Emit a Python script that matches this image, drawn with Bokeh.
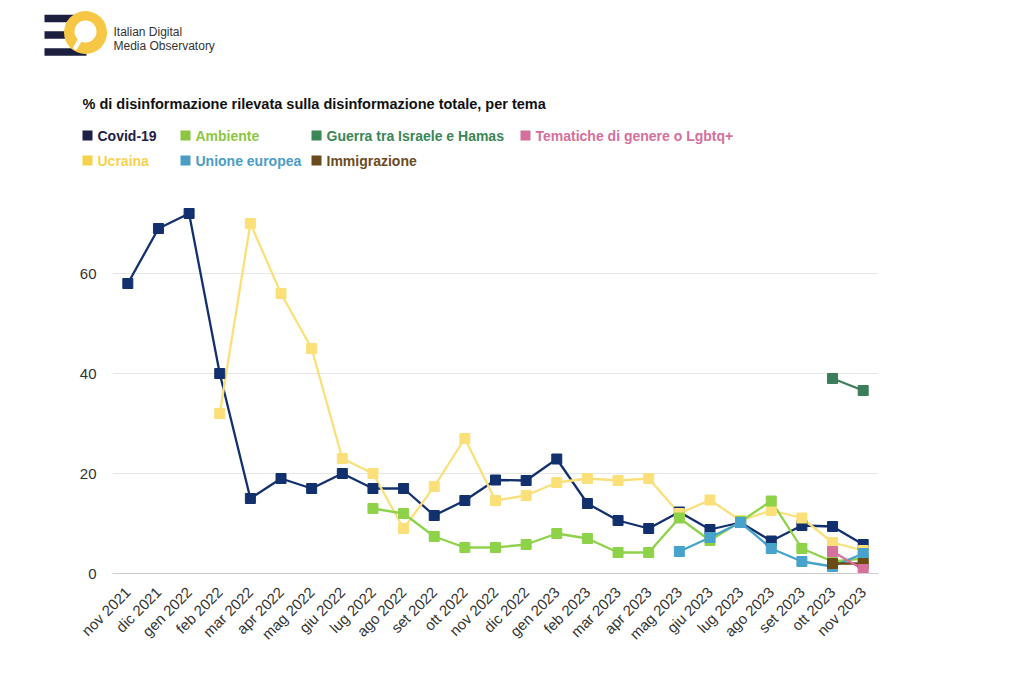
import math
from bokeh.plotting import figure
from bokeh.layouts import column
from bokeh.models import FactorRange, Range1d, FixedTicker
from bokeh.core.properties import value
from bokeh.embed import file_html
from bokeh.resources import INLINE

nan = float("nan")
FONT = "Liberation Sans"

# ---------------- data ----------------
months = ["nov 2021", "dic 2021", "gen 2022", "feb 2022", "mar 2022", "apr 2022",
          "mag 2022", "giu 2022", "lug 2022", "ago 2022", "set 2022", "ott 2022",
          "nov 2022", "dic 2022", "gen 2023", "feb 2023", "mar 2023", "apr 2023",
          "mag 2023", "giu 2023", "lug 2023", "ago 2023", "set 2023", "ott 2023",
          "nov 2023"]

covid = [58, 69, 72, 40, 15, 19, 17, 20, 17, 17, 11.6, 14.6, 18.7, 18.6, 22.9,
         14, 10.6, 9, 12.3, 8.8, 10.2, 6.5, 9.6, 9.4, 5.8]
ucraina = [nan, nan, nan, 32, 70, 56, 45, 23, 20, 9, 17.4, 27, 14.6, 15.6, 18.2,
           19, 18.6, 19, 12, 14.7, 10.6, 12.6, 11.1, 6.2, 4.6]
ambiente = [nan, nan, nan, nan, nan, nan, nan, nan, 13, 12, 7.4, 5.2, 5.2, 5.8, 8,
            7, 4.2, 4.2, 11.1, 6.6, 10.4, 14.5, 5, 2.4, 3]
unione_europea = [nan] * 18 + [4.4, 7.2, 10.2, 5, 2.4, 1.4, 4]
guerra = [nan] * 23 + [39, 36.6]
immigrazione = [nan] * 23 + [2, 2]
tematiche = [nan] * 23 + [4.4, 0.8]

series_names = ["Covid-19", "Ucraina", "Ambiente", "Unione europea",
                "Guerra tra Israele e Hamas", "Immigrazione",
                "Tematiche di genere o Lgbtq+"]
series_values = [covid, ucraina, ambiente, unione_europea, guerra,
                 immigrazione, tematiche]
series_colors = ["#13306e", "#fbe07a", "#8ed24a", "#47a3cc", "#3c7e5b",
                 "#6b4a16", "#d7719c"]

legend_rows = [["Covid-19", "Ambiente", "Guerra tra Israele e Hamas",
                "Tematiche di genere o Lgbtq+"],
               ["Ucraina", "Unione europea", "Immigrazione"]]
legend_colors = {"Covid-19": "#1e2146", "Ambiente": "#8cc63f",
                 "Guerra tra Israele e Hamas": "#3a8655",
                 "Tematiche di genere o Lgbtq+": "#d4709b",
                 "Ucraina": "#f8d24c", "Unione europea": "#4a9dc6",
                 "Immigrazione": "#6b4a1e"}

y_ticks = [0, 20, 40, 60]
title_text = "% di disinformazione rilevata sulla disinformazione totale, per tema"
logo_lines = ["Italian Digital", "Media Observatory"]

W = 1016

# ---------------- header (logo, title, legend) ----------------
HH = 198
h = figure(width=W, height=HH, x_range=Range1d(0, W), y_range=Range1d(HH, 0),
           output_backend="svg", toolbar_location=None,
           x_axis_location=None, y_axis_location=None, min_border=0,
           frame_align=False)
h.outline_line_color = None
h.grid.visible = False

# logo
h.rect(x=[65, 65, 65], y=[18, 34.5, 51.5], width=42, height=7.5,
       fill_color="#1d1f3f", line_color=None)
h.circle(x=[85], y=[32], radius=21.5, fill_color="#f6c744", line_color=None)
h.circle(x=[85], y=[31], radius=11, fill_color="white", line_color=None)
h.line(x=[79, 75], y=[40, 47], line_color="white", line_width=4.5,
       line_cap="round")
h.text(x=[113, 113], y=[31, 45], text=logo_lines, text_font=value(FONT),
       text_font_size="12px", text_color="#333333", text_baseline="middle")

# title
h.text(x=[82], y=[103], text=[title_text], text_font=value(FONT),
       text_font_size="14.5px", text_font_style="bold", text_color="#111111",
       text_baseline="middle")

# legend
col_x = [82, 180, 311, 520]
row_y = [135, 160]
for r, row in enumerate(legend_rows):
    for c, name in enumerate(row):
        h.rect(x=[col_x[c] + 5], y=[row_y[r]], width=10, height=10,
               fill_color=legend_colors[name], line_color=None)
        h.text(x=[col_x[c] + 15], y=[row_y[r]], text=[name],
               text_font=value(FONT), text_font_size="14px",
               text_font_style="bold", text_color=legend_colors[name],
               text_baseline="middle")

# ---------------- main chart ----------------
p = figure(width=W, height=491, x_range=FactorRange(*months),
           y_range=Range1d(0, 74.6), output_backend="svg",
           toolbar_location=None, min_border_left=112, min_border_right=138,
           min_border_top=2, min_border_bottom=116, frame_align=False)
p.outline_line_color = None
p.background_fill_color = "white"

for vals, col in zip(series_values, series_colors):
    p.line(months, vals, line_color=col, line_width=2.3)
for vals, col in zip(series_values, series_colors):
    p.scatter(months, vals, marker="square", size=10, fill_color=col,
              line_color=col)

p.xgrid.visible = False
p.ygrid.grid_line_color = "#e6e6e6"
p.ygrid.ticker = FixedTicker(ticks=y_ticks)

p.yaxis.ticker = FixedTicker(ticks=y_ticks)
p.yaxis.axis_line_color = None
p.yaxis.major_tick_line_color = None
p.yaxis.minor_tick_line_color = None
p.yaxis.major_label_text_font = FONT
p.yaxis.major_label_text_font_size = "15px"
p.yaxis.major_label_text_color = "#333333"
p.yaxis.major_label_standoff = 10

p.xaxis.axis_line_color = "#cccccc"
p.xaxis.major_tick_line_color = None
p.xaxis.minor_tick_line_color = None
p.xaxis.major_label_orientation = math.pi / 4
p.xaxis.major_label_text_font = FONT
p.xaxis.major_label_text_font_size = "15px"
p.xaxis.major_label_text_color = "#333333"
p.xaxis.major_label_standoff = 10
p.x_range.range_padding = 0

layout = column(h, p, spacing=0)
open("out.html", "w").write(file_html(layout, INLINE))
